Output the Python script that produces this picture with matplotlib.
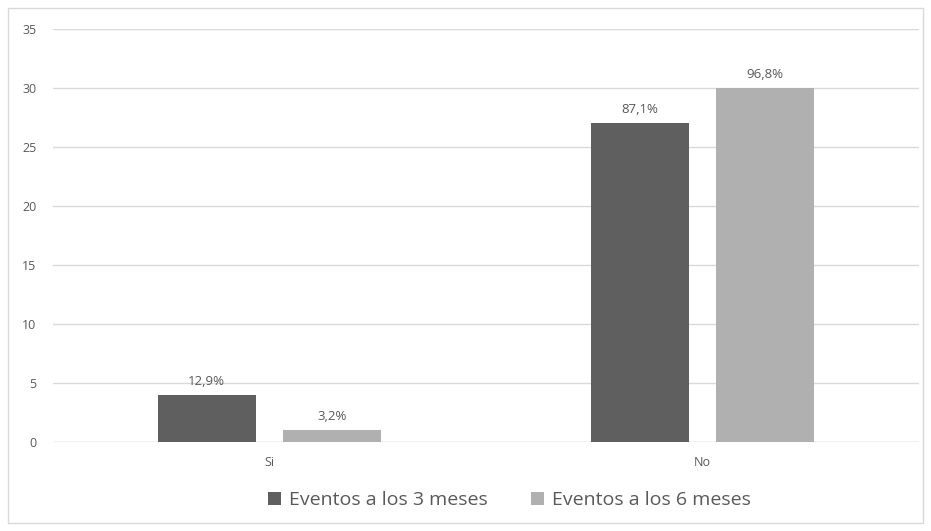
import matplotlib.pyplot as plt
from matplotlib.patches import Rectangle
import numpy as np

categories = ['Si', 'No']
series_names = ['Eventos a los 3 meses', 'Eventos a los 6 meses']
eventos_3m = [4, 27]
eventos_6m = [1, 30]
labels_3m = ['12,9%', '87,1%']
labels_6m = ['3,2%', '96,8%']
colors = ['#5f5f5f', '#b0b0b0']

plt.rcParams['font.family'] = ['Open Sans', 'DejaVu Sans']
text_color = '#595959'

fig = plt.figure(figsize=(9.31, 5.31), dpi=100)
ax = fig.add_axes([0.057, 0.1676, 0.930, 0.7778])

x = np.arange(len(categories))
width = 0.226
offset = 0.145

b1 = ax.bar(x - offset, eventos_3m, width, color=colors[0], label=series_names[0], zorder=3)
b2 = ax.bar(x + offset, eventos_6m, width, color=colors[1], label=series_names[1], zorder=3)

for bars, labs in [(b1, labels_3m), (b2, labels_6m)]:
    for rect, lab in zip(bars, labs):
        ax.annotate(lab, (rect.get_x() + rect.get_width() / 2, rect.get_height()),
                    xytext=(0, 5), textcoords='offset points', ha='center', va='bottom',
                    fontsize=9.5, color=text_color)

ax.set_xlim(-0.5, 1.5)
ax.set_ylim(0, 35)
ax.set_yticks(range(0, 36, 5))
ax.set_xticks(x)
ax.set_xticklabels(categories)
ax.tick_params(axis='both', length=0, labelsize=9, colors=text_color)
ax.tick_params(axis='y', pad=12)
ax.tick_params(axis='x', pad=10)
ax.grid(axis='y', color='#d9d9d9', linewidth=1, zorder=0)
for s in ax.spines.values():
    s.set_visible(False)
ax.axhline(0, color='#d9d9d9', linewidth=1, zorder=2)

leg = fig.legend(loc='center', bbox_to_anchor=(0.547, 0.058), ncol=2, frameon=False,
                 fontsize=14, handlelength=0.7, handleheight=0.7, handletextpad=0.4,
                 columnspacing=2.2)
for t in leg.get_texts():
    t.set_color(text_color)

fig.patches.append(Rectangle((8 / 931, 8 / 531), 915 / 931, 515 / 531, transform=fig.transFigure,
                             fill=False, edgecolor='#d9d9d9', linewidth=1))

fig.savefig('out.png', dpi=100)
